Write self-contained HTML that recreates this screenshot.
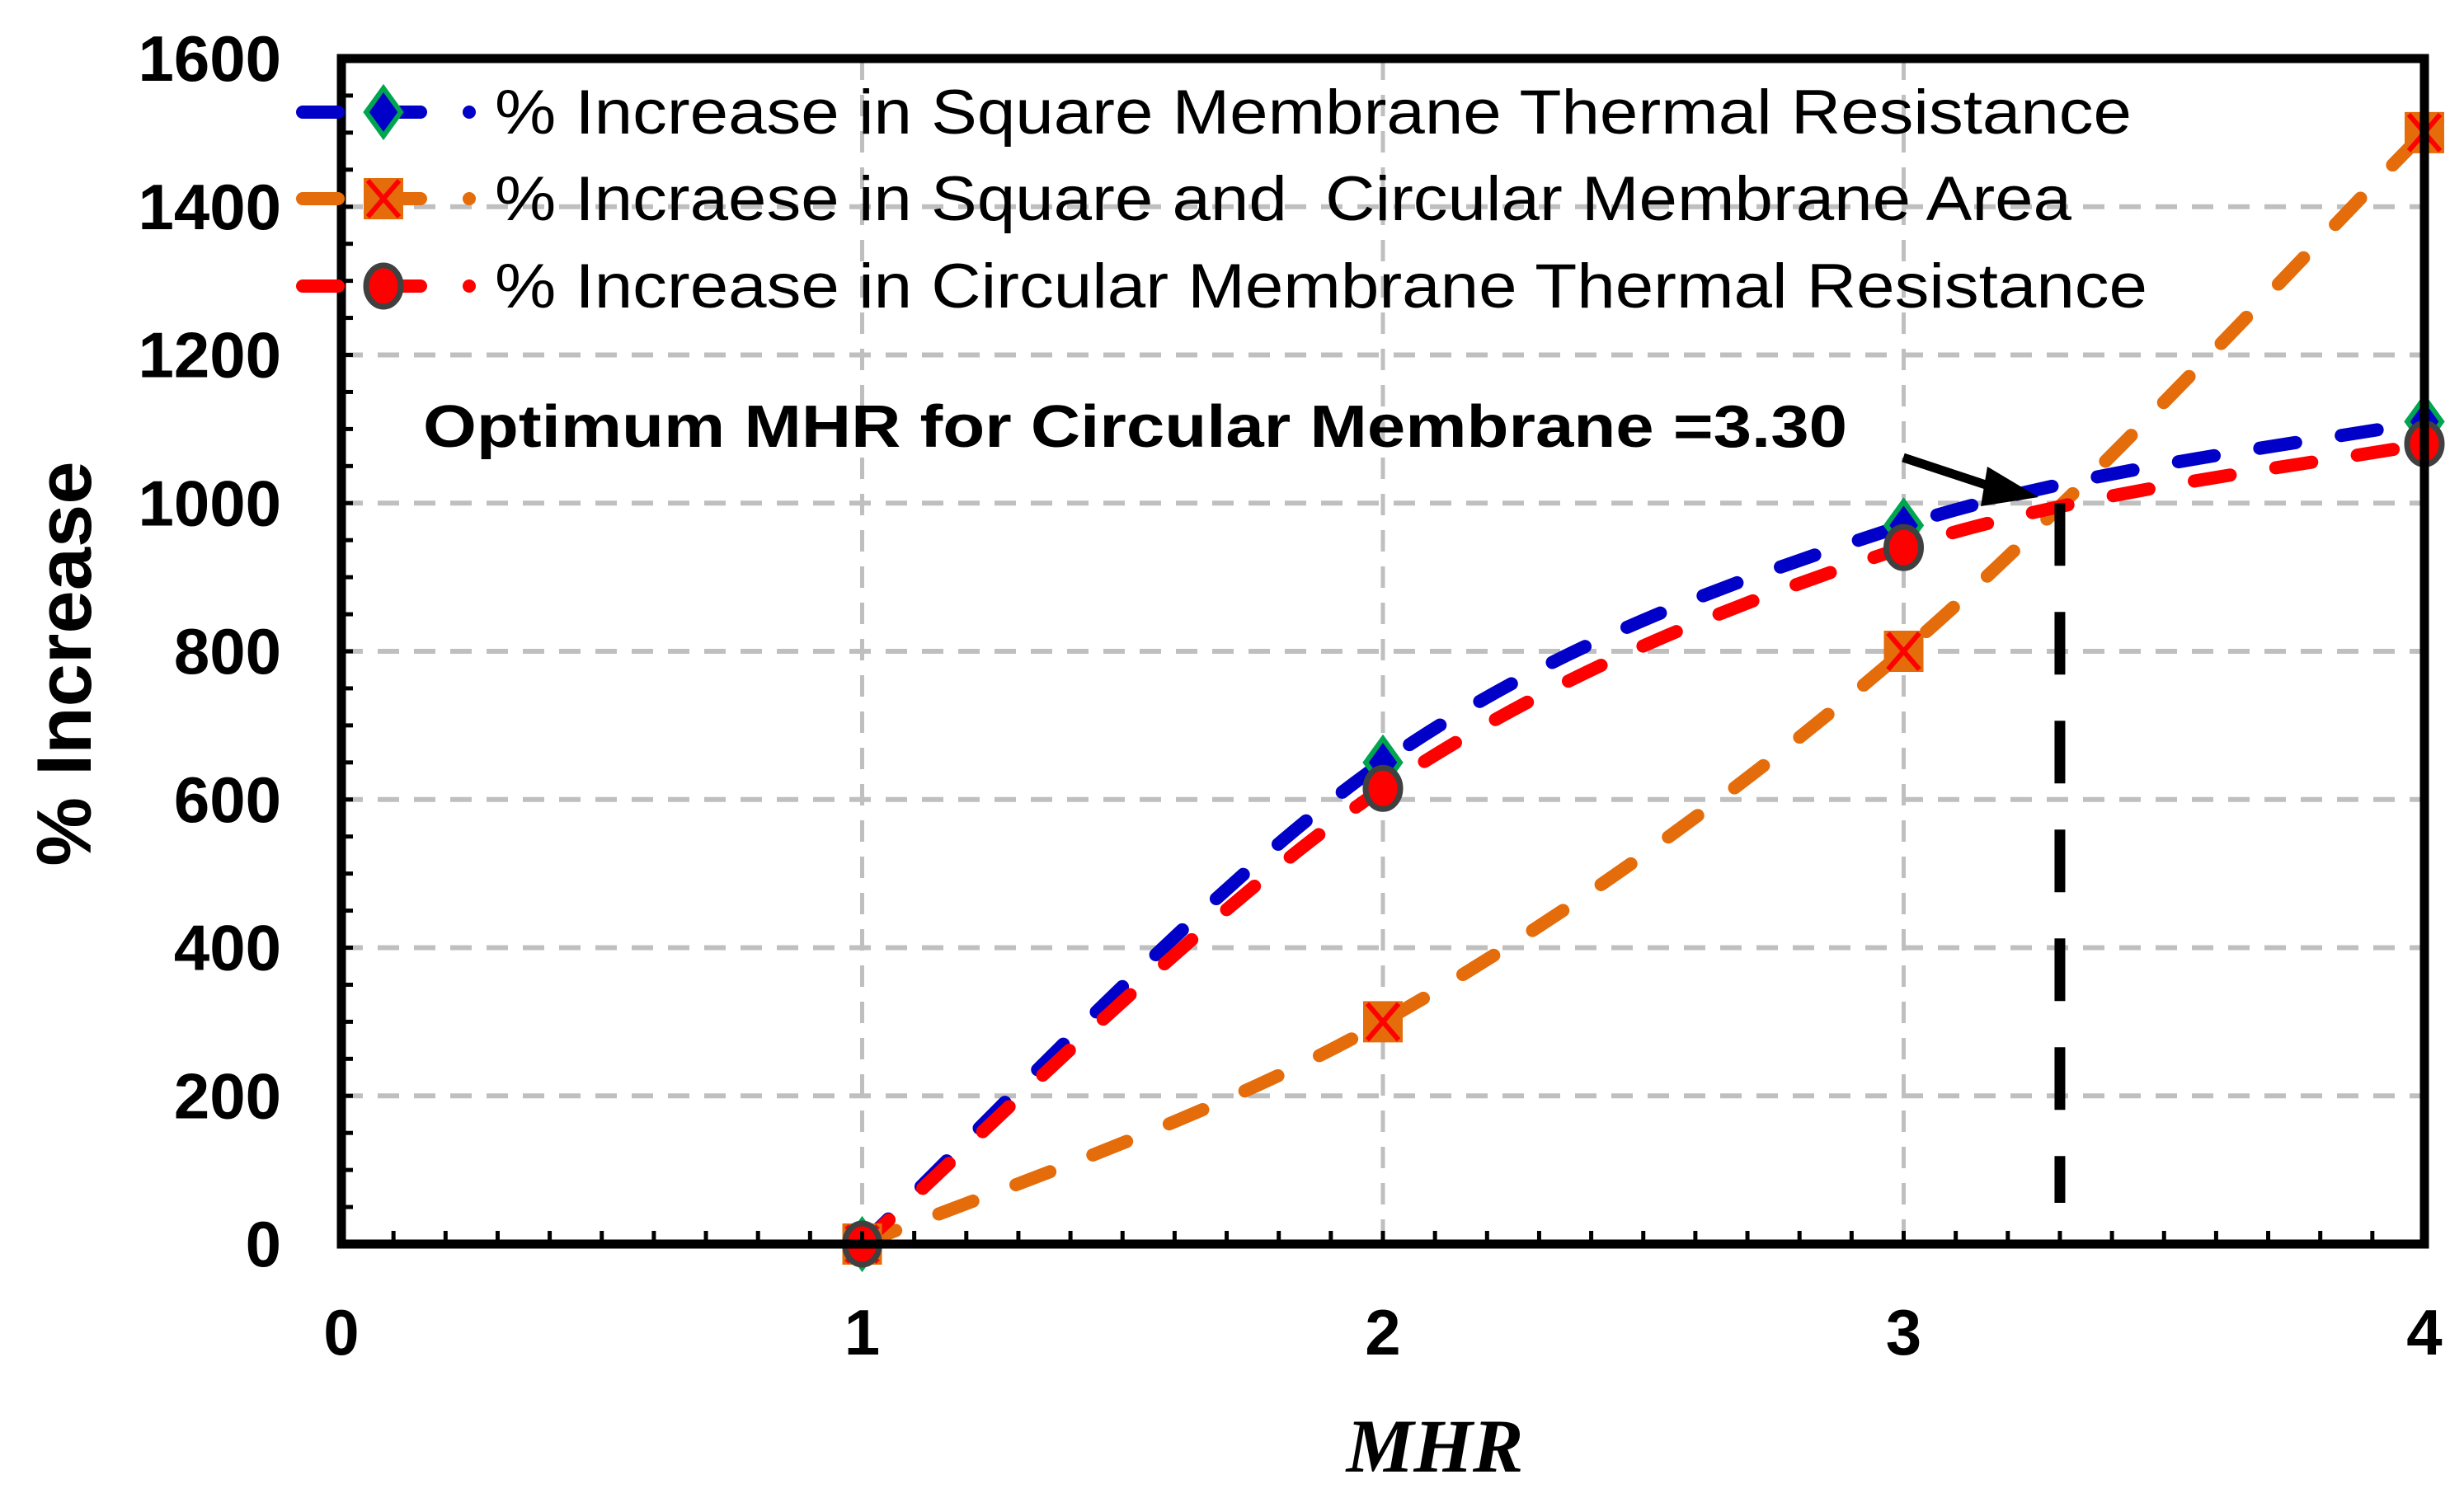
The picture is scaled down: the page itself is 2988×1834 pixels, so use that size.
<!DOCTYPE html>
<html><head><meta charset="utf-8"><style>
html,body{margin:0;padding:0;background:#fff;}
svg{display:block;}
text{white-space:pre;}
</style></head><body>
<svg id="chart" width="2988" height="1834" viewBox="0 0 2988 1834" xmlns="http://www.w3.org/2000/svg">
<g id="grid"></g>
<g id="series"></g>
<g id="axes"></g>
<g id="legend"></g>
<text transform="translate(110,805) rotate(-90)" text-anchor="middle" font-family="Liberation Sans, sans-serif" font-weight="bold" font-size="94">% Increase</text>
<text x="1740" y="1785" text-anchor="middle" font-family="Liberation Serif, serif" font-style="italic" font-weight="bold" font-size="92">MHR</text>
<text x="513" y="542" font-family="Liberation Sans, sans-serif" font-weight="bold" font-size="72" textLength="1727" lengthAdjust="spacingAndGlyphs">Optimum MHR for Circular Membrane =3.30</text>
</svg>
<script>
const xCats = [1, 2, 3, 4];
const squareR = [0, 650, 970, 1110];
const areaInc = [0, 300, 800, 1500];
const circR = [0, 615, 940, 1080];
const yTicks = [0, 200, 400, 600, 800, 1000, 1200, 1400, 1600];
const xTicks = [0, 1, 2, 3, 4];
const optimumX = [3.3];
const optimumY = [1000];

const L=414,R=2940,T=71,B=1509;
const X=v=>L+(v-0)/(4-0)*(R-L);
const Y=v=>B-(v/1600)*(B-T);
const NS='http://www.w3.org/2000/svg';
function mk(tag,attrs,parent){const e=document.createElementNS(NS,tag);for(const k in attrs)e.setAttribute(k,attrs[k]);parent.appendChild(e);return e;}
const grid=document.getElementById('grid'),series=document.getElementById('series'),axes=document.getElementById('axes'),legend=document.getElementById('legend');

yTicks.forEach(v=>{
  if(v>0&&v<1600){const l=mk('line',{x1:L,x2:R,y1:Y(v),y2:Y(v),stroke:'#bfbfbf','stroke-width':6,'stroke-dasharray':'26 18'},grid);
  
  }
  const t=mk('text',{x:341,y:Y(v)+27,'text-anchor':'end','font-family':'Liberation Sans, sans-serif','font-weight':'bold','font-size':78},axes);
  t.textContent=v;
  
  
});
xTicks.forEach(v=>{
  if(v>0&&v<4){const l=mk('line',{x1:X(v),x2:X(v),y1:T,y2:B,stroke:'#bfbfbf','stroke-width':5,'stroke-dasharray':'26 18'},grid);
  
  }
  const t=mk('text',{x:X(v),y:1643,'text-anchor':'middle','font-family':'Liberation Sans, sans-serif','font-weight':'bold','font-size':78},axes);
  t.textContent=v;
  
  
});
for(let v=50;v<1600;v+=50){const l=mk('line',{x1:L,x2:L+14,y1:Y(v),y2:Y(v),stroke:'#000','stroke-width':5},axes);
  
  }
for(let i=1;i<40;i++){const v=i/10;const l=mk('line',{x1:X(v),x2:X(v),y1:B,y2:B-16,stroke:'#000','stroke-width':5},axes);
  
  }
const frame=mk('rect',{x:L,y:T,width:R-L,height:B-T,fill:'none',stroke:'#000','stroke-width':11},axes);



function smooth(pts){
  let d='M'+pts[0][0]+','+pts[0][1];
  for(let i=0;i<pts.length-1;i++){
    const p0=pts[i-1]||pts[i],p1=pts[i],p2=pts[i+1],p3=pts[i+2]||p2;
    const c1=[p1[0]+(p2[0]-p0[0])/6,p1[1]+(p2[1]-p0[1])/6];
    const c2=[p2[0]-(p3[0]-p1[0])/6,p2[1]-(p3[1]-p1[1])/6];
    d+=' C'+c1+' '+c2+' '+p2;
  }
  return d;
}
function marker(type,x,y,parent,name){
  let e;
  if(type==='diamond'){e=mk('polygon',{points:`${x},${y-29} ${x+21},${y} ${x},${y+29} ${x-21},${y}`,fill:'#0000c8',stroke:'#00a550','stroke-width':6},parent);}
  else if(type==='square'){e=mk('g',{},parent);
    mk('rect',{x:x-23,y:y-24,width:46,height:48,fill:'#e46c0a',stroke:'#e46c0a','stroke-width':2},e);
    mk('path',{d:`M${x-19},${y-22}L${x+19},${y+22}M${x+19},${y-22}L${x-19},${y+22}`,stroke:'#ff0000','stroke-width':6},e);}
  else {e=mk('ellipse',{cx:x,cy:y,rx:21,ry:25,fill:'#ff0000',stroke:'#404040','stroke-width':7},parent);}
  
  
}
const defs=[
 {vals:areaInc,color:'#e46c0a',m:'square',name:'area-increase'},
 {vals:squareR,color:'#0000c8',m:'diamond',name:'square-resistance'},
 {vals:circR,color:'#ff0000',m:'circle',name:'circular-resistance'}];
defs.forEach(s=>{
  const pts=xCats.map((c,i)=>[X(c),Y(s.vals[i])]);
  const p=mk('path',{d:smooth(pts),fill:'none',stroke:s.color,'stroke-width':16,'stroke-linecap':'round','stroke-dasharray':'44 56'},series);
  
  
});
const ol=mk('line',{x1:X(optimumX[0]),x2:X(optimumX[0]),y1:Y(optimumY[0]),y2:B-50,stroke:'#000','stroke-width':13,'stroke-dasharray':'76 56'},series);


const ar=mk('g',{},series);


mk('line',{x1:2308,y1:555,x2:2420,y2:592,stroke:'#000','stroke-width':11},ar);
mk('polygon',{points:'2472,603 2410,566 2402,614',fill:'#000'},ar);
defs.forEach(s=>{
  xCats.forEach((c,i)=>marker(s.m,X(c),Y(s.vals[i]),series,s.name+'-marker'));
});
const labels=['% Increase in Square Membrane Thermal Resistance','% Incraese in Square and  Circular Membrane Area','% Increase in Circular Membrane Thermal Resistance'];
const lw=[1985,1912,2004];
const lorder=[defs[1],defs[0],defs[2]];
const ly=[136,241,347];
lorder.forEach((s,i)=>{
  const g=mk('g',{},legend);
  
  
  const y=ly[i];
  mk('line',{x1:367,x2:410,y1:y,y2:y,stroke:s.color,'stroke-width':16,'stroke-linecap':'round'},g);
  mk('line',{x1:480,x2:510,y1:y,y2:y,stroke:s.color,'stroke-width':16,'stroke-linecap':'round'},g);
  mk('circle',{cx:569,cy:y,r:8,fill:s.color},g);
  marker(s.m,465,y,g,'legend-marker');
  const t=mk('text',{x:600,y:y+26,'font-family':'Liberation Sans, sans-serif','font-size':76,textLength:lw[i],lengthAdjust:'spacingAndGlyphs'},g);
  t.textContent=labels[i];
});
</script>
</body></html>
